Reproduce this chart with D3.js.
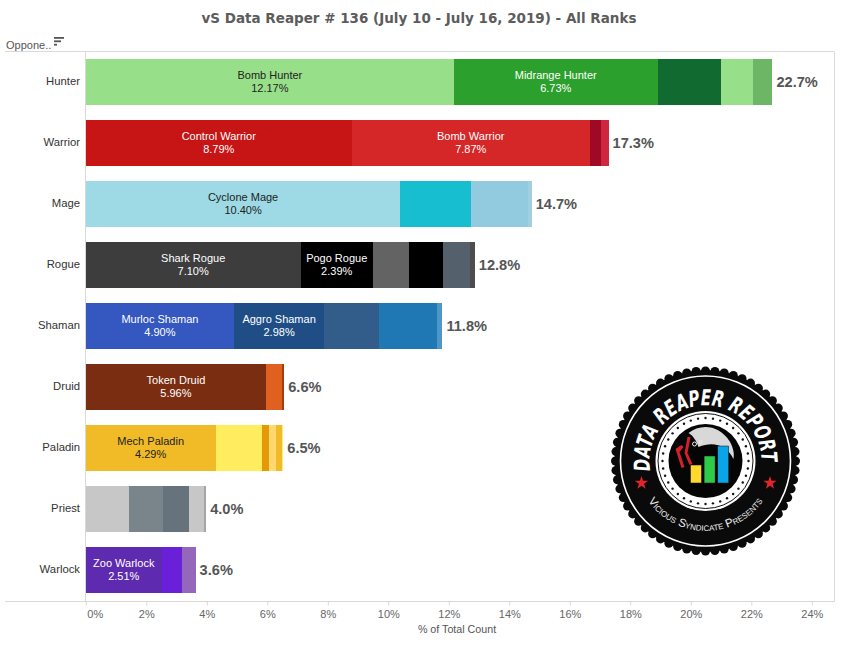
<!DOCTYPE html>
<html>
<head>
<meta charset="utf-8">
<script src="https://cdn.jsdelivr.net/npm/d3@7"></script>
<style>
  html, body { margin: 0; padding: 0; background: #fff; }
  svg { display: block; }
  text { font-family: "Liberation Sans", Arial, sans-serif; }
</style>
</head>
<body>
<svg id="chart" width="847" height="645"></svg>
<script>
const classes = ['Hunter', 'Warrior', 'Mage', 'Rogue', 'Shaman', 'Druid', 'Paladin', 'Priest', 'Warlock'];
const totals = [22.7, 17.3, 14.7, 12.8, 11.8, 6.6, 6.5, 4.0, 3.6];
const xTicks = [0, 2, 4, 6, 8, 10, 12, 14, 16, 18, 20, 22, 24];

// share of each archetype, per class, in stack order
const hunterValues = [12.17, 6.73, 2.11, 1.06, 0.63];
const warriorValues = [8.79, 7.87, 0.36, 0.26];
const mageValues = [10.40, 2.32, 1.89, 0.13];
const rogueValues = [7.10, 2.39, 1.19, 1.12, 0.89, 0.17];
const shamanValues = [4.90, 2.98, 1.82, 1.92, 0.17];
const druidValues = [5.96, 0.53, 0.07];
const paladinValues = [4.29, 1.55, 0.23, 0.23, 0.17, 0.06];
const priestValues = [1.43, 1.12, 0.86, 0.50, 0.07];
const warlockValues = [2.51, 0.66, 0.46];
const seriesValues = [hunterValues, warriorValues, mageValues, rogueValues, shamanValues,
  druidValues, paladinValues, priestValues, warlockValues];

// names of the archetypes big enough to carry a label
const hunterNames = ['Bomb Hunter', 'Midrange Hunter'];
const warriorNames = ['Control Warrior', 'Bomb Warrior'];
const mageNames = ['Cyclone Mage'];
const rogueNames = ['Shark Rogue', 'Pogo Rogue'];
const shamanNames = ['Murloc Shaman', 'Aggro Shaman'];
const druidNames = ['Token Druid'];
const paladinNames = ['Mech Paladin'];
const priestNames = [];
const warlockNames = ['Zoo Warlock'];
const seriesNames = [hunterNames, warriorNames, mageNames, rogueNames, shamanNames,
  druidNames, paladinNames, priestNames, warlockNames];

const seriesColors = [
  ['#98df8a', '#2ca02c', '#116b31', '#98df8a', '#6db665'],
  ['#c71414', '#d62728', '#9e0a26', '#d1263f'],
  ['#9edae5', '#17becf', '#92cbdf', '#a0d0e0'],
  ['#3d3d3d', '#000000', '#636363', '#000000', '#54606b', '#4d4d4d'],
  ['#3557c0', '#1f4e87', '#325c8a', '#1f77b4', '#4e96c6'],
  ['#7b2d12', '#e06020', '#a63c0a'],
  ['#f0bb26', '#ffed5f', '#e59a05', '#ffd86e', '#f0bb26', '#fff06a'],
  ['#c7c7c7', '#7a858b', '#66737c', '#c7c7c7', '#a5a5a5'],
  ['#5e2ab0', '#6a1fd8', '#9467bd']
];
const darkLabel = ['Bomb Hunter', 'Cyclone Mage', 'Mech Paladin'];

const svg = d3.select('#chart');
const x = d3.scaleLinear().domain([0, 24]).range([85.8, 811.8]);
const y = d3.scaleBand().domain(classes).range([51.4, 600.4]).paddingInner(0.246).paddingOuter(0.123);
const grid = '#d9d9d9';

svg.append('text')
  .attr('x', 419).attr('y', 23)
  .attr('text-anchor', 'middle')
  .style('font-family', '"DejaVu Sans"')
  .style('font-weight', 'bold')
  .style('font-size', '13.5px')
  .attr('fill', '#5c5c5c')
  .text('vS Data Reaper # 136 (July 10 - July 16, 2019) - All Ranks');

// frame
svg.append('line').attr('x1', 5).attr('x2', 834.5).attr('y1', 51.5).attr('y2', 51.5).attr('stroke', grid);
svg.append('line').attr('x1', 5).attr('x2', 834.5).attr('y1', 601.5).attr('y2', 601.5).attr('stroke', grid);
svg.append('line').attr('x1', 85.5).attr('x2', 85.5).attr('y1', 51.5).attr('y2', 601.5).attr('stroke', grid);
svg.append('line').attr('x1', 834.5).attr('x2', 834.5).attr('y1', 51.5).attr('y2', 601.5).attr('stroke', grid);

// field header and sort icon
svg.append('text').attr('x', 6).attr('y', 49).style('font-size', '11px').attr('fill', '#555').text('Oppone..');
svg.append('g').selectAll('rect').data([10, 7, 3]).join('rect')
  .attr('x', 54).attr('y', (d, i) => 37 + i * 3.4)
  .attr('width', d => d).attr('height', 1.8)
  .attr('fill', '#555');

// stacked bars
const rows = svg.append('g').selectAll('g').data(classes).join('g');
rows.each(function (name, i) {
  const stacked = d3.cumsum(seriesValues[i]);
  const row = d3.select(this);
  const segs = seriesValues[i].map((v, j) => ({
    v, start: j ? stacked[j - 1] : 0, end: stacked[j],
    color: seriesColors[i][j], label: seriesNames[i][j]
  }));

  row.selectAll('rect').data(segs).join('rect')
    .attr('x', d => x(d.start))
    .attr('y', y(name))
    .attr('width', d => x(d.end) - x(d.start))
    .attr('height', y.bandwidth())
    .attr('shape-rendering', 'crispEdges')
    .attr('fill', d => d.color);

  const labelled = row.selectAll('text.seg').data(segs.filter(d => d.label)).join('text')
    .attr('class', 'seg')
    .attr('text-anchor', 'middle')
    .style('font-size', '11px')
    .attr('fill', d => darkLabel.includes(d.label) ? '#222' : '#fff');
  labelled.append('tspan')
    .attr('x', d => x((d.start + d.end) / 2))
    .attr('y', y(name) + y.bandwidth() / 2 - 3)
    .text(d => d.label);
  labelled.append('tspan')
    .attr('x', d => x((d.start + d.end) / 2))
    .attr('y', y(name) + y.bandwidth() / 2 + 10)
    .text(d => d3.format('.2f')(d.v) + '%');

  row.append('text')
    .attr('x', x(stacked[stacked.length - 1]) + 4)
    .attr('y', y(name) + y.bandwidth() / 2 + 5)
    .style('font-size', '14.6px')
    .style('font-weight', 'bold')
    .attr('fill', '#555')
    .text(d3.format('.1f')(totals[i]) + '%');

  row.append('text')
    .attr('x', 80)
    .attr('y', y(name) + y.bandwidth() / 2 + 3)
    .attr('text-anchor', 'end')
    .style('font-size', '11.3px')
    .attr('fill', '#333')
    .text(name);
});

// x axis
const xAxis = d3.axisBottom(x).tickValues(xTicks).tickSize(4).tickPadding(5).tickFormat(d => d + '%');
const axisG = svg.append('g').attr('transform', 'translate(0,601.5)').call(xAxis);
axisG.select('.domain').remove();
axisG.selectAll('line').attr('stroke', grid);
axisG.selectAll('text')
  .style('font-size', '11px')
  .style('font-family', '"Liberation Sans", Arial, sans-serif')
  .attr('fill', '#666');
axisG.selectAll('text').filter(d => d === 0).attr('text-anchor', 'start').attr('dx', 1);

svg.append('text')
  .attr('x', 457).attr('y', 633)
  .attr('text-anchor', 'middle')
  .style('font-size', '10.7px')
  .attr('fill', '#555')
  .text('% of Total Count');

// logo badge
const logo = svg.append('g').attr('transform', 'translate(705.5,461)');
const bumps = d3.range(0, 360, 6);
logo.selectAll('circle.bump').data(bumps).join('circle')
  .attr('class', 'bump')
  .attr('cx', d => 90 * Math.cos(d * Math.PI / 180))
  .attr('cy', d => 90 * Math.sin(d * Math.PI / 180))
  .attr('r', 4.5).attr('fill', '#0a0a0a');
logo.append('circle').attr('r', 91).attr('fill', '#0a0a0a');
logo.append('circle').attr('r', 85).attr('fill', 'none').attr('stroke', '#fff').attr('stroke-width', 1.6);
logo.append('circle').attr('r', 50).attr('fill', '#fff');
logo.append('circle').attr('r', 47.5).attr('fill', 'none').attr('stroke', '#111').attr('stroke-width', 1);
logo.selectAll('circle.dot').data(d3.range(0, 360, 10)).join('circle')
  .attr('class', 'dot')
  .attr('cx', d => 43 * Math.cos(d * Math.PI / 180))
  .attr('cy', d => 43 * Math.sin(d * Math.PI / 180))
  .attr('r', 1.2).attr('fill', '#111');
logo.append('circle').attr('r', 38.5).attr('fill', '#fff');
logo.append('circle').attr('r', 37).attr('fill', '#050505');

// scythe
logo.append('path')
  .attr('d', 'M-17,-28 C-5,-38 14,-36 24,-20 C28,-13 29,-7 28,-2 C21,-16 8,-20 -7,-14 C-9,-20 -12,-25 -17,-28 Z')
  .attr('fill', '#d8d8d8');
logo.append('path')
  .attr('d', 'M-30,-12 L-24,-16 L-22,-14 L-26,-9 L-21,6 L-24,7 Z')
  .attr('fill', '#d4202a');
logo.append('path')
  .attr('d', 'M-18,-24 L-15,-24 L-18,-8 L-13,3 L-16,4 L-21,-8 Z')
  .attr('fill', '#d4202a');
logo.append('circle').attr('cx', -11).attr('cy', -17).attr('r', 2).attr('fill', 'none').attr('stroke', '#eee');
logo.append('circle').attr('cx', -5).attr('cy', -19).attr('r', 1.5).attr('fill', 'none').attr('stroke', '#eee');

// the bars in the logo
const logoBars = [
  { h: 18, c: '#ffd92e' }, { h: 27, c: '#2ecb4b' }, { h: 37, c: '#0aa5e8' }
];
logo.selectAll('rect').data(logoBars).join('rect')
  .attr('x', (d, i) => -15 + i * 13.6)
  .attr('y', d => 22 - d.h)
  .attr('width', 11).attr('height', d => d.h)
  .attr('fill', d => d.c)
  .attr('stroke', '#111').attr('stroke-width', 0.5);

// arc text
const defs = svg.append('defs');
defs.append('path').attr('id', 'arcTop').attr('d', 'M-55.2,9.7 A56,56 0 1 1 55.2,9.7');
defs.append('path').attr('id', 'arcBottom').attr('d', 'M-62,32.5 A70,70 0 0 0 62,32.5');
logo.append('text')
  .style('font-family', '"Liberation Sans Narrow", "DejaVu Sans Condensed", "Liberation Sans"')
  .style('font-weight', 'bold')
  .style('font-style', 'italic')
  .style('font-size', '22px')
  .attr('fill', '#fff')
  .append('textPath').attr('href', '#arcTop')
  .attr('textLength', 186).attr('lengthAdjust', 'spacingAndGlyphs')
  .text('DATA REAPER REPORT');
logo.append('text')
  .style('font-size', '11.5px')
  .style('font-variant', 'small-caps')
  .attr('fill', '#eee')
  .append('textPath').attr('href', '#arcBottom').attr('startOffset', '50%').attr('text-anchor', 'middle')
  .text('Vicious Syndicate Presents');

const star = d3.symbol().type(d3.symbolStar).size(55);
logo.selectAll('path.star').data([[-64, 22], [64.5, 22]]).join('path')
  .attr('class', 'star')
  .attr('transform', d => `translate(${d[0]},${d[1]})`)
  .attr('d', star)
  .attr('fill', '#e3242b');
</script>
</body>
</html>
